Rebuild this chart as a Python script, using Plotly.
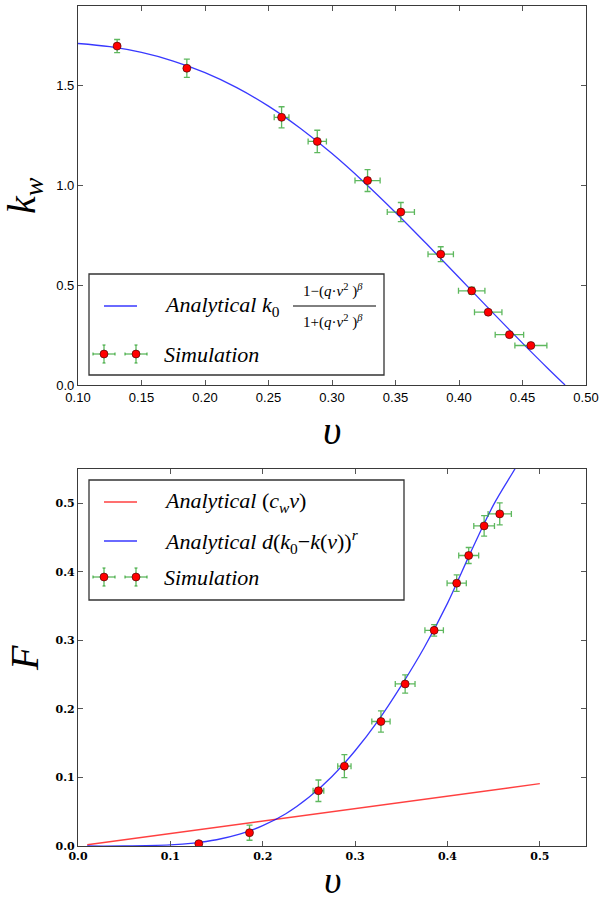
import plotly.graph_objects as go

# ---------------- data ----------------
v_sim = [0.1308, 0.1857, 0.2603, 0.2884, 0.3280, 0.3542, 0.3856, 0.4100, 0.4230, 0.4397, 0.4566]
v_err = [0.0010, 0.0020, 0.0058, 0.0072, 0.0099, 0.0107, 0.0100, 0.0104, 0.0108, 0.0112, 0.0126]
k_sim = [1.699, 1.588, 1.342, 1.221, 1.025, 0.867, 0.656, 0.472, 0.365, 0.2525, 0.198]
k_err = [0.033, 0.046, 0.053, 0.056, 0.055, 0.048, 0.037, 0.018, 0.012, 0.010, 0.006]
F_sim = [0.0034, 0.0194, 0.0806, 0.1165, 0.1816, 0.2364, 0.3146, 0.3835, 0.4238, 0.4670, 0.4845]
F_err = [0.002, 0.011, 0.0157, 0.0167, 0.0155, 0.0133, 0.0083, 0.012, 0.0117, 0.015, 0.016]

# analytical k(v) curve
kc_v = [0.100, 0.125, 0.150, 0.175, 0.200, 0.225, 0.250, 0.275, 0.300, 0.325, 0.350, 0.375, 0.400, 0.425, 0.450, 0.470, 0.4835]
kc_k = [1.712, 1.696, 1.667, 1.624, 1.566, 1.491, 1.398, 1.287, 1.160, 1.018, 0.865, 0.704, 0.539, 0.373, 0.210, 0.083, 0.000]

# analytical (c_w v) line
lin_v = [0.01, 0.50]
lin_F = [0.0018, 0.091]

# analytical d(k0-k(v))^r curve
fc_v = [0.01, 0.05, 0.10, 0.125, 0.15, 0.175, 0.20, 0.225, 0.25, 0.275, 0.30, 0.325, 0.35, 0.375, 0.40, 0.425, 0.45, 0.473, 0.48]
fc_F = [0.0, 0.0001, 0.0017, 0.0043, 0.0091, 0.0172, 0.0296, 0.047, 0.071, 0.1015, 0.139, 0.183, 0.234, 0.290, 0.354, 0.428, 0.498, 0.550, 0.567]

top_xticks = [0.10, 0.15, 0.20, 0.25, 0.30, 0.35, 0.40, 0.45, 0.50]
top_yticks = [0.0, 0.5, 1.0, 1.5]
bot_xticks = [0.0, 0.1, 0.2, 0.3, 0.4, 0.5]
bot_yticks = [0.0, 0.1, 0.2, 0.3, 0.4, 0.5]

# ---------------- layout geometry (pixels) ----------------
W, H = 600, 905
L, R, T, B = 78, 14, 6, 59
PW, PH = W - L - R, H - T - B


def px(x):
    return (x - L) / PW


def py(y):
    return (H - B - y) / PH


BLUE = "rgba(0,0,255,0.78)"
RED = "rgba(255,0,0,0.75)"
GREEN = "rgba(40,160,40,0.75)"
MRED = "#ff0000"

fig = go.Figure()

# top panel
fig.add_trace(go.Scatter(x=kc_v, y=kc_k, mode="lines", line=dict(color=BLUE, width=1.3, shape="spline"),
                         xaxis="x", yaxis="y", showlegend=False, hoverinfo="skip"))
fig.add_trace(go.Scatter(x=v_sim, y=k_sim, mode="markers",
                         marker=dict(color=MRED, size=8, line=dict(color="#330000", width=0.6)),
                         error_x=dict(type="data", array=v_err, color=GREEN, thickness=1.3, width=3),
                         error_y=dict(type="data", array=k_err, color=GREEN, thickness=1.3, width=3),
                         xaxis="x", yaxis="y", showlegend=False))

# bottom panel
fig.add_trace(go.Scatter(x=lin_v, y=lin_F, mode="lines", line=dict(color=RED, width=1.5),
                         xaxis="x2", yaxis="y2", showlegend=False))
fig.add_trace(go.Scatter(x=fc_v, y=fc_F, mode="lines", line=dict(color=BLUE, width=1.3, shape="spline"),
                         xaxis="x2", yaxis="y2", showlegend=False))
fig.add_trace(go.Scatter(x=v_sim, y=F_sim, mode="markers",
                         marker=dict(color=MRED, size=8, line=dict(color="#330000", width=0.6)),
                         error_x=dict(type="data", array=v_err, color=GREEN, thickness=1.3, width=3),
                         error_y=dict(type="data", array=F_err, color=GREEN, thickness=1.3, width=3),
                         xaxis="x2", yaxis="y2", showlegend=False))

axis_common = dict(showline=True, linecolor="#3a3a3a", linewidth=1.2, mirror="ticks", ticks="inside",
                   ticklen=5, tickwidth=1, tickcolor="#555", showgrid=False, zeroline=False)
sans = dict(family="Liberation Sans, Arial, sans-serif", size=13, color="black")
serifb = dict(family="DejaVu Serif, serif", size=11, color="black", weight="bold")

top_bottom = py(385)
bot_top = py(469)

fig.update_layout(
    width=W, height=H, margin=dict(l=L, r=R, t=T, b=B, autoexpand=False),
    paper_bgcolor="white", plot_bgcolor="white",
    xaxis=dict(domain=[0, 1], range=[0.10, 0.50], anchor="y", tickvals=top_xticks,
               ticktext=[f"{t:.2f}" for t in top_xticks], tickfont=sans, **axis_common),
    yaxis=dict(domain=[top_bottom, 1], range=[0, 1.9], anchor="x", tickvals=top_yticks,
               ticktext=[f"{t:.1f}" for t in top_yticks], tickfont=sans, **axis_common),
    xaxis2=dict(domain=[0, 1], range=[0, 0.55], anchor="y2", tickvals=bot_xticks,
                ticktext=[f"{t:.1f}" for t in bot_xticks], tickfont=serifb, **axis_common),
    yaxis2=dict(domain=[0, bot_top], range=[0, 0.55], anchor="x2", tickvals=bot_yticks,
                ticktext=[f"{t:.1f}" for t in bot_yticks], tickfont=serifb, **axis_common),
)

shapes = []
ann = []
SER = "Liberation Serif, Times New Roman, serif"


def box(x0, y0, x1, y1):
    shapes.append(dict(type="rect", xref="paper", yref="paper", x0=px(x0), x1=px(x1), y0=py(y1), y1=py(y0),
                       line=dict(color="#333", width=1.3), fillcolor="white", layer="above"))


def hline(x0, x1, y, color, width=1.5):
    shapes.append(dict(type="line", xref="paper", yref="paper", x0=px(x0), x1=px(x1), y0=py(y), y1=py(y),
                       line=dict(color=color, width=width), layer="above"))


def vline(x, y0, y1, color, width=1.3):
    shapes.append(dict(type="line", xref="paper", yref="paper", x0=px(x), x1=px(x), y0=py(y0), y1=py(y1),
                       line=dict(color=color, width=width), layer="above"))


def sim_symbol(cx, cy):
    hline(cx - 11, cx + 11, cy, GREEN, 1.3)
    vline(cx, cy - 9, cy + 9, GREEN, 1.3)
    vline(cx - 11, cy - 1.5, cy + 1.5, GREEN, 1.3)
    vline(cx + 11, cy - 1.5, cy + 1.5, GREEN, 1.3)
    hline(cx - 1.5, cx + 1.5, cy - 9, GREEN, 1.3)
    hline(cx - 1.5, cx + 1.5, cy + 9, GREEN, 1.3)
    shapes.append(dict(type="circle", xref="paper", yref="paper", x0=px(cx - 4), x1=px(cx + 4),
                       y0=py(cy + 4), y1=py(cy - 4), fillcolor=MRED, line=dict(color="#330000", width=0.6),
                       layer="above"))


def text(x, y, s, size=22, xanchor="left", angle=0):
    ann.append(dict(xref="paper", yref="paper", x=px(x), y=py(y), text=s, showarrow=False,
                    xanchor=xanchor, yanchor="middle", textangle=angle,
                    font=dict(family=SER, size=size, color="black")))


# top legend
box(89, 274, 384, 375)
hline(104, 137, 306, BLUE, 1.5)
text(162, 306, "<i>Analytical k</i><sub>0</sub>")
text(333, 290, "1−(<i>q</i>·<i>v</i><sup>2</sup> )<sup><i>β</i></sup>", size=15, xanchor="center")
hline(293, 376, 306, "black", 1)
text(333, 321, "1+(<i>q</i>·<i>v</i><sup>2</sup> )<sup><i>β</i></sup>", size=15, xanchor="center")
sim_symbol(104, 354)
sim_symbol(136, 354)
text(162, 354, "<i>Simulation</i>")

# bottom legend
box(89, 480, 404, 600)
hline(104, 137, 502, RED, 1.5)
text(162, 502, "<i>Analytical</i> (<i>c</i><sub><i>w</i></sub><i>v</i>)")
hline(104, 137, 541, BLUE, 1.5)
text(162, 541, "<i>Analytical d</i>(<i>k</i><sub>0</sub>−<i>k</i>(<i>v</i>))<sup><i>r</i></sup>")
sim_symbol(104, 577)
sim_symbol(136, 577)
text(162, 577, "<i>Simulation</i>")

# axis titles
text(24, 196, "<i>k</i><sub><i>w</i></sub>", size=40, xanchor="center", angle=-90)
text(332, 430, "<i>υ</i>", size=40, xanchor="center")
text(24, 658, "<i>F</i>", size=40, xanchor="center", angle=-90)
text(332, 880, "<i>υ</i>", size=38, xanchor="center")

fig.update_layout(shapes=shapes, annotations=ann)
fig.write_html("out.html", config={"displayModeBar": False},
               post_script="document.body.style.margin='0px';document.body.style.overflow='hidden';")
